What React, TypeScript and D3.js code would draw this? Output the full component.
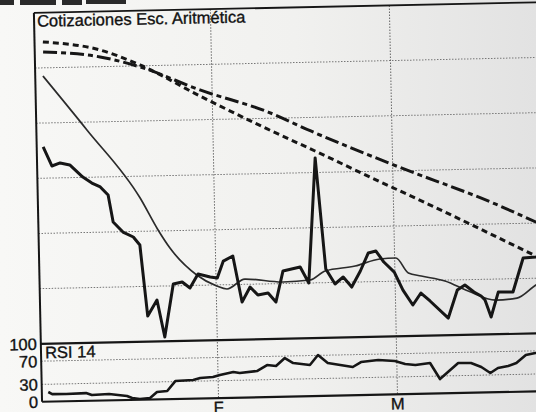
import React from "react";
import * as d3 from "d3";

// x values: day of year (1 Feb = 31, 1 Mar = 59); main panel values on an arbitrary price scale 0..30
const monthTicks = [31, 59];
const monthLabels = ["F", "M"];
const priceGrid = [5, 10, 15, 20, 25];
const rsiGrid = [30, 70];
const rsiTickValues = [100, 70, 30, 0];

const priceDays = [4.4, 5.7, 7.0, 8.5, 10.5, 11.9, 13.2, 14.4, 15.1, 16.6, 18.2, 19.2, 20.2, 21.7, 22.8, 24.3, 25.7, 26.9, 28.2, 30.1, 31.2, 32.2, 33.7, 35.0, 36.3, 37.5, 39.1, 40.3, 41.5, 44.2, 45.5, 46.9, 48.2, 49.6, 50.9, 52.2, 53.6, 54.9, 56.1, 57.3, 58.9, 60.2, 61.7, 63.0, 64.4, 67.2, 68.7, 69.9, 71.3, 72.4, 73.0, 73.9, 75.1, 77.4, 79.1, 81.1, 83.0];
const priceVals = [17.83, 16.09, 16.35, 16.15, 15.03, 14.47, 14.10, 13.35, 10.90, 9.97, 9.50, 8.76, 2.31, 3.75, 0.38, 5.17, 5.33, 4.77, 6.02, 5.73, 5.63, 7.15, 7.59, 3.40, 4.75, 4.01, 4.17, 3.34, 6.14, 6.47, 5.00, 16.32, 6.23, 4.86, 5.48, 4.55, 5.99, 7.61, 7.77, 6.76, 5.83, 4.18, 2.81, 3.88, 3.14, 1.56, 4.08, 4.52, 3.87, 3.49, 3.12, 1.57, 3.82, 3.80, 6.86, 6.92, 7.1];

const maShortDays = [4.6, 11.3, 19.4, 22.1, 23.9, 28.0, 31.1, 32.7, 35.5, 41.5, 45.7, 48.1, 52.8, 56.7, 59.2, 61.1, 63.1, 66.8, 70.4, 74.7, 78.0, 81.0, 83.0];
const maShortVals = [24.26, 19.29, 13.02, 10.09, 8.43, 5.94, 4.90, 4.61, 5.48, 5.14, 5.27, 6.06, 6.45, 7.04, 7.10, 5.72, 5.42, 4.92, 3.97, 3.09, 3.24, 4.39, 5.0];

const maDotDays = [4.7, 13.6, 19.8, 29.1, 39.5, 46.9, 55.4, 64.4, 81.1, 83.0];
const maDotVals = [27.35, 26.51, 25.08, 22.15, 19.04, 16.95, 14.49, 11.93, 7.02, 6.46];

const maDashDays = [4.7, 13.6, 19.8, 29.1, 39.7, 46.3, 58.8, 74.9, 81.2, 83.0];
const maDashVals = [26.44, 25.88, 24.90, 22.70, 20.57, 18.77, 15.62, 11.81, 10.10, 9.61];

const rsiDays = [4.4, 5.0, 7.2, 10.3, 11.2, 13.9, 16.7, 17.5, 18.7, 20.3, 21.4, 23.0, 24.3, 27.1, 28.2, 30.2, 31.3, 33.4, 34.4, 37.1, 38.7, 40.1, 41.5, 42.8, 45.4, 46.7, 48.2, 52.1, 53.4, 56.1, 58.7, 60.3, 61.9, 64.2, 65.7, 68.6, 70.6, 72.2, 73.6, 74.8, 76.4, 77.7, 79.2, 80.7, 83.0];
const rsiVals = [16.6, 12.9, 12.4, 13.4, 9.8, 10.9, 6.8, 3.2, 1.2, 2.5, 12.6, 14.0, 30.9, 32.0, 35.2, 36.5, 39.7, 44.4, 42.4, 45.2, 55.2, 53.2, 66.6, 57.7, 53.7, 70.6, 56.5, 48.7, 57.0, 59.8, 57.5, 52.0, 49.9, 52.8, 24.8, 51.8, 51.3, 44.1, 33.4, 41.7, 44.8, 49.7, 63.1, 66.2, 67.0];

const W = 536;
const H = 412;
const L = 38;
const R = 570;
const TOP = 8;
const SEP = 339;
const BOT = 397;
const FONT = "'Liberation Sans', Arial, Helvetica, sans-serif";

const zip = (a: number[], b: number[]) => a.map((d, i) => [d, b[i]] as [number, number]);

export default function App() {
  const x = d3.scaleLinear().domain([31, 59]).range([214.5, 393.5]);
  const y = d3.scaleLinear().domain([0, 30]).range([SEP, TOP]);
  const yR = d3.scaleLinear().domain([0, 100]).range([BOT, SEP]);

  const lineMain = d3.line<[number, number]>().x((d) => x(d[0])).y((d) => y(d[1]));
  const smoothMain = d3
    .line<[number, number]>()
    .x((d) => x(d[0]))
    .y((d) => y(d[1]))
    .curve(d3.curveMonotoneX);
  const lineRsi = d3.line<[number, number]>().x((d) => x(d[0])).y((d) => yR(d[1]));

  const ink = "#161616";
  const textProps = {
    fontFamily: FONT,
    fontSize: 16.5,
    fill: "#111",
    stroke: "#111",
    strokeWidth: 0.35,
  };

  return (
    <svg
      width={W}
      height={H}
      style={{ position: "absolute", left: 0, top: 0, display: "block" }}
    >
      <defs>
        <linearGradient id="paper" x1="0" y1="0" x2="1" y2="0">
          <stop offset="0" stopColor="#f8f8f6" />
          <stop offset="0.55" stopColor="#f1f1ef" />
          <stop offset="1" stopColor="#e2e2e2" />
        </linearGradient>
        <clipPath id="clipMain">
          <rect x={L} y={TOP} width={R - L} height={SEP - TOP} />
        </clipPath>
        <clipPath id="clipRsi">
          <rect x={L} y={SEP} width={R - L} height={BOT - SEP} />
        </clipPath>
      </defs>
      <rect x={0} y={0} width={W} height={H} fill="url(#paper)" />
      {/* scan artefact at top-left */}
      <rect x={0} y={0} width={14} height={5} fill="#2a2a2a" />
      <rect x={20} y={0} width={36} height={5} fill="#2a2a2a" />
      <rect x={62} y={0} width={20} height={5} fill="#2a2a2a" />
      <rect x={86} y={0} width={40} height={4} fill="#2a2a2a" />

      <g transform="rotate(-1.2, 268, 206)">
        {/* grid */}
        <g clipPath="url(#clipMain)">
          {priceGrid.map((v) => (
            <line
              key={"g" + v}
              x1={L}
              x2={R}
              y1={y(v)}
              y2={y(v)}
              stroke="#777"
              strokeWidth={1}
              strokeDasharray="1.5,1.5"
            />
          ))}
        </g>
        <g clipPath="url(#clipRsi)">
          {rsiGrid.map((v) => (
            <line
              key={"r" + v}
              x1={L}
              x2={R}
              y1={yR(v)}
              y2={yR(v)}
              stroke="#777"
              strokeWidth={1}
              strokeDasharray="1.5,1.5"
            />
          ))}
        </g>
        {monthTicks.map((d) => (
          <line
            key={"v" + d}
            x1={x(d)}
            x2={x(d)}
            y1={TOP}
            y2={BOT}
            stroke="#666"
            strokeWidth={1}
            strokeDasharray="1.5,1.5"
          />
        ))}

        {/* main series */}
        <g clipPath="url(#clipMain)" fill="none" strokeLinejoin="round">
          <path
            d={smoothMain(zip(maDotDays, maDotVals)) || ""}
            stroke={ink}
            strokeWidth={3}
            strokeDasharray="6,4"
          />
          <path
            d={smoothMain(zip(maDashDays, maDashVals)) || ""}
            stroke={ink}
            strokeWidth={3}
            strokeDasharray="14,4,5,4"
          />
          <path
            d={smoothMain(zip(maShortDays, maShortVals)) || ""}
            stroke="#2b2b2b"
            strokeWidth={1.7}
          />
          <path
            d={lineMain(zip(priceDays, priceVals)) || ""}
            stroke={ink}
            strokeWidth={3}
          />
        </g>

        {/* RSI series */}
        <g clipPath="url(#clipRsi)" fill="none" strokeLinejoin="round">
          <path d={lineRsi(zip(rsiDays, rsiVals)) || ""} stroke={ink} strokeWidth={2.6} />
        </g>

        {/* frames */}
        <line x1={L} x2={R} y1={TOP} y2={TOP} stroke={ink} strokeWidth={1.8} />
        <line x1={L} x2={L} y1={TOP} y2={BOT} stroke={ink} strokeWidth={2} />
        <line x1={L} x2={R} y1={SEP} y2={SEP} stroke={ink} strokeWidth={2.2} />
        <line x1={L} x2={R} y1={BOT} y2={BOT} stroke={ink} strokeWidth={2.2} />

        {/* texts */}
        <text x={41} y={22} {...textProps}>
          Cotizaciones Esc. Aritmética
        </text>
        <text x={42} y={353.5} {...textProps}>
          RSI 14
        </text>
        {rsiTickValues.map((v) => (
          <text key={"t" + v} x={34} y={yR(v)} dy="0.36em" textAnchor="end" {...textProps}>
            {v}
          </text>
        ))}
        {monthTicks.map((d, i) => (
          <text key={"m" + d} x={x(d)} y={412} textAnchor="middle" {...textProps}>
            {monthLabels[i]}
          </text>
        ))}
      </g>
    </svg>
  );
}
